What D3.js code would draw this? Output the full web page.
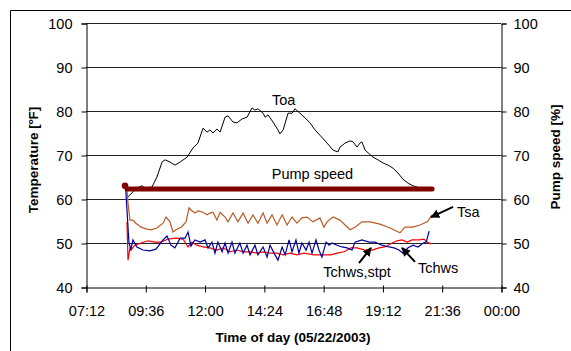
<!DOCTYPE html>
<html><head><meta charset="utf-8">
<script src="https://cdn.jsdelivr.net/npm/d3@7"></script>
<style>
html,body{margin:0;padding:0;background:#fff;}
svg{display:block;font-family:"Liberation Sans",Arial,sans-serif;}
</style></head>
<body><svg id="c" width="571" height="351"></svg>
<script>
// ---- data (time in decimal hours, values in °F or %) ----
const xTickValues = [7.2, 9.6, 12.0, 14.4, 16.8, 19.2, 21.6, 24.0];
const xTickLabels = ["07:12","09:36","12:00","14:24","16:48","19:12","21:36","00:00"];
const yTicks = [40, 50, 60, 70, 80, 90, 100];

const toa = [[8.90,60.5],[9.26,62.5],[9.47,63.0],[9.59,62.5],[9.87,62.7],[10.07,65.0],[10.28,68.4],[10.40,68.9],
 [10.60,68.4],[10.80,67.7],[11.01,68.4],[11.29,69.5],[11.53,71.6],[11.73,72.7],[11.94,76.1],[12.10,75.2],
 [12.22,75.7],[12.34,75.0],[12.50,75.9],[12.63,75.2],[12.83,78.6],[12.95,78.9],[13.15,77.5],[13.31,77.3],
 [13.52,78.2],[13.72,78.6],[13.92,80.7],[14.04,80.2],[14.16,80.5],[14.37,79.5],[14.45,78.6],[14.57,79.1],
 [14.77,77.5],[14.97,75.7],[15.05,74.8],[15.18,75.7],[15.38,79.5],[15.54,79.5],[15.66,80.5],[15.86,79.5],
 [16.07,78.4],[16.27,77.3],[16.47,75.7],[16.67,74.5],[16.96,72.7],[17.20,71.1],[17.40,70.7],[17.48,71.8],
 [17.69,72.7],[17.89,73.2],[18.01,73.0],[18.17,71.8],[18.29,72.7],[18.37,73.0],[18.50,71.1],[18.62,70.5],
 [18.82,69.5],[19.02,68.9],[19.22,68.2],[19.43,67.7],[19.63,67.0],[19.83,65.9],[20.03,64.5],[20.24,63.6],
 [20.44,63.0],[20.72,62.5],[21.13,62.0]];

const pumpTime  = [8.78, 8.86, 10.0, 12.0, 14.0, 16.0, 18.0, 20.0, 21.21];
const pumpSpeed = [63.0, 62.3, 62.3, 62.3, 62.3, 62.3, 62.3, 62.3, 62.3];

const tsa = [[8.86,62.0],[8.90,59.1],[8.98,55.2],[9.10,55.2],[9.22,54.5],[9.43,53.6],[9.63,53.2],[9.83,53.0],
 [10.07,53.4],[10.32,54.5],[10.44,55.9],[10.60,54.8],[10.72,52.5],[10.84,53.0],[11.05,53.6],[11.25,54.8],
 [11.37,58.0],[11.45,57.5],[11.61,56.8],[11.73,57.3],[11.94,57.0],[12.10,56.4],[12.22,56.8],[12.34,57.0],
 [12.50,55.2],[12.63,57.0],[12.83,55.9],[12.95,54.8],[13.15,56.8],[13.35,54.8],[13.56,56.8],[13.76,54.5],
 [13.96,56.4],[14.16,54.5],[14.37,56.8],[14.53,54.5],[14.73,56.4],[14.93,54.1],[15.14,56.4],[15.34,54.1],
 [15.54,55.9],[15.74,54.5],[15.94,55.7],[16.15,55.9],[16.39,54.8],[16.67,55.7],[16.83,53.6],[16.96,54.8],
 [17.20,55.9],[17.48,55.2],[17.89,53.0],[18.09,53.6],[18.37,54.8],[18.70,54.8],[19.10,54.3],[19.51,53.4],
 [19.91,52.3],[20.11,53.6],[20.44,53.6],[20.72,54.1],[21.01,54.8],[21.13,55.7],[21.21,56.4]];

const tchwsStpt = [[8.86,54.8],[8.90,46.1],[8.98,48.9],[9.02,48.4],[9.18,49.5],[9.43,50.0],[9.71,50.5],[9.99,50.2],
 [10.24,50.2],[10.52,50.9],[10.84,51.1],[11.13,50.9],[11.33,49.1],[11.49,50.2],[11.69,49.5],[11.94,49.1],
 [12.22,48.9],[12.50,48.4],[12.75,48.9],[13.03,48.0],[13.31,48.4],[13.56,48.0],[13.84,48.0],[14.12,47.7],
 [14.37,48.0],[14.65,47.7],[14.93,47.7],[15.18,47.3],[15.46,47.7],[15.74,47.3],[16.03,47.7],[16.43,47.3],
 [16.83,47.3],[17.12,47.3],[17.36,47.7],[17.65,48.0],[17.93,48.9],[18.17,48.9],[18.50,48.4],[18.78,48.4],
 [19.06,48.9],[19.30,49.1],[19.59,50.0],[19.79,50.5],[19.99,50.7],[20.20,50.2],[20.40,50.7],[20.68,50.7],
 [20.88,50.9],[21.01,50.2],[21.17,49.8]];

const tchws = [[8.80,63.0],[8.94,50.0],[9.02,48.6],[9.10,50.7],[9.26,49.1],[9.51,48.4],[9.79,48.2],[10.03,48.6],
 [10.32,50.7],[10.48,51.6],[10.64,49.5],[10.80,48.9],[11.01,51.1],[11.21,51.1],[11.33,52.5],[11.45,49.3],
 [11.61,50.7],[11.82,50.2],[12.02,50.7],[12.14,48.9],[12.30,50.2],[12.42,47.7],[12.54,50.2],[12.71,48.0],
 [12.83,50.0],[12.95,47.7],[13.11,50.2],[13.23,47.7],[13.43,50.0],[13.56,47.7],[13.72,49.5],[13.84,47.3],
 [14.04,49.5],[14.16,47.3],[14.37,49.1],[14.53,46.8],[14.65,49.5],[14.85,47.3],[14.97,46.1],[15.14,49.1],
 [15.26,47.3],[15.42,50.7],[15.54,48.0],[15.70,50.7],[15.82,47.7],[15.94,50.0],[16.11,48.4],[16.23,50.2],
 [16.35,47.7],[16.51,50.7],[16.63,48.4],[16.75,46.8],[16.92,50.2],[17.04,49.5],[17.16,50.0],[17.36,49.5],
 [17.56,49.1],[17.77,48.9],[17.97,48.4],[18.09,50.2],[18.37,50.7],[18.66,50.2],[18.90,50.2],[19.18,49.5],
 [19.47,49.1],[19.67,48.9],[19.87,48.4],[20.03,47.7],[20.24,48.9],[20.44,49.5],[20.64,49.1],[20.85,50.0],
 [20.97,50.2],[21.05,51.8],[21.09,52.7]];

// annotations: [text, time, value] and arrows [fromT, fromV, toT, toV]
const labels = [["Toa",14.73,81.4],["Pump speed",14.72,64.6],["Tsa",22.22,55.9],["Tchws",20.64,43.2],["Tchws,stpt",16.80,42.3]];
const arrows = [[22.06,58.2,21.17,55.9],[20.52,45.7,19.99,48.9],[18.25,45.45,18.74,48.9]];

// ---- drawing ----
const svg = d3.select("#c");
const L = 86, R = 501, T = 23, B = 287;
const x = d3.scaleLinear().domain([7.2, 24]).range([L, R]);
const y = d3.scaleLinear().domain([40, 100]).range([B, T]);
const yR = d3.scaleLinear().domain([40, 100]).range([B, T]);

// outer frame (top & left visible)
svg.append("path").attr("d","M10.5,351V10.5H571").attr("fill","none").attr("stroke","#000").attr("stroke-width",1);

// gridlines
svg.append("g").selectAll("line").data(yTicks.filter(d=>d>40)).join("line")
  .attr("x1",L).attr("x2",R).attr("y1",d=>Math.round(y(d))+0.5).attr("y2",d=>Math.round(y(d))+0.5)
  .attr("stroke",(d,i)=>"#000").attr("stroke-width",1).attr("opacity",0.85);

const fs = "14.5px";
// left axis
const gl = svg.append("g").attr("transform",`translate(${L+0.5},0.5)`)
  .call(d3.axisLeft(y).tickValues(yTicks).tickSize(5).tickPadding(9).tickFormat(d3.format("d")));
// right axis
const gr = svg.append("g").attr("transform",`translate(${R+0.5},0.5)`)
  .call(d3.axisRight(yR).tickValues(yTicks).tickSize(5).tickPadding(7).tickFormat(d3.format("d")));
// bottom axis
const gb = svg.append("g").attr("transform",`translate(0.5,${B+0.5})`)
  .call(d3.axisBottom(x).tickValues(xTickValues).tickSize(5).tickPadding(13).tickFormat((d,i)=>xTickLabels[i]));
gb.selectAll(".tick line").attr("y1",-2);
[gl,gr,gb].forEach(g=>{
  g.select(".domain").attr("stroke","#000");
  g.selectAll(".tick line").attr("stroke","#000");
  g.selectAll("text").attr("font-size",fs).attr("font-family","Liberation Sans, Arial, sans-serif").attr("fill","#000");
});
gr.selectAll(".tick text").attr("text-anchor","start");

// axis titles
svg.append("text").attr("transform","translate(38,160) rotate(-90)").attr("text-anchor","middle")
  .attr("font-weight","bold").attr("font-size","13.5px").text("Temperature [ºF]");
svg.append("text").attr("transform","translate(560,157) rotate(-90)").attr("text-anchor","middle")
  .attr("font-weight","bold").attr("font-size","13.5px").text("Pump speed [%]");
svg.append("text").attr("x",293).attr("y",342).attr("text-anchor","middle")
  .attr("font-weight","bold").attr("font-size","13.5px").text("Time of day (05/22/2003)");

const line = d3.line().x(d=>x(d[0])).y(d=>y(d[1]));
const plot = svg.append("g");
plot.append("path").datum(tsa).attr("d",line).attr("fill","none").attr("stroke","#BA5A26").attr("stroke-width",1.2);
plot.append("path").datum(tchwsStpt).attr("d",line).attr("fill","none").attr("stroke","#FF0000").attr("stroke-width",1.2);
plot.append("path").datum(tchws).attr("d",line).attr("fill","none").attr("stroke","#0000A0").attr("stroke-width",1.2);
plot.append("path").datum(toa).attr("d",line).attr("fill","none").attr("stroke","#000").attr("stroke-width",1);

const pump = pumpTime.map((t,i)=>[t,pumpSpeed[i]]);
const lineR = d3.line().x(d=>x(d[0])).y(d=>yR(d[1]));
plot.append("path").datum(pump.slice(1)).attr("d",lineR).attr("fill","none").attr("stroke","#800000")
  .attr("stroke-width",5).attr("stroke-linecap","round");
plot.append("circle").attr("cx",x(pump[0][0])).attr("cy",yR(pump[0][1])).attr("r",3.3).attr("fill","#800000");

// annotations
svg.append("defs").append("marker").attr("id","ah").attr("viewBox","0 0 10 10").attr("refX",9).attr("refY",5)
  .attr("markerWidth",4.5).attr("markerHeight",4.5).attr("orient","auto")
  .append("path").attr("d","M0,0L10,5L0,10Z").attr("fill","#000");
svg.append("g").selectAll("line").data(arrows).join("line")
  .attr("x1",d=>x(d[0])).attr("y1",d=>y(d[1])).attr("x2",d=>x(d[2])).attr("y2",d=>y(d[3]))
  .attr("stroke","#000").attr("stroke-width",2).attr("marker-end","url(#ah)");
svg.append("g").selectAll("text").data(labels).join("text")
  .attr("x",d=>x(d[1])).attr("y",d=>y(d[2])).attr("font-size",fs).text(d=>d[0]);
</script></body></html>
